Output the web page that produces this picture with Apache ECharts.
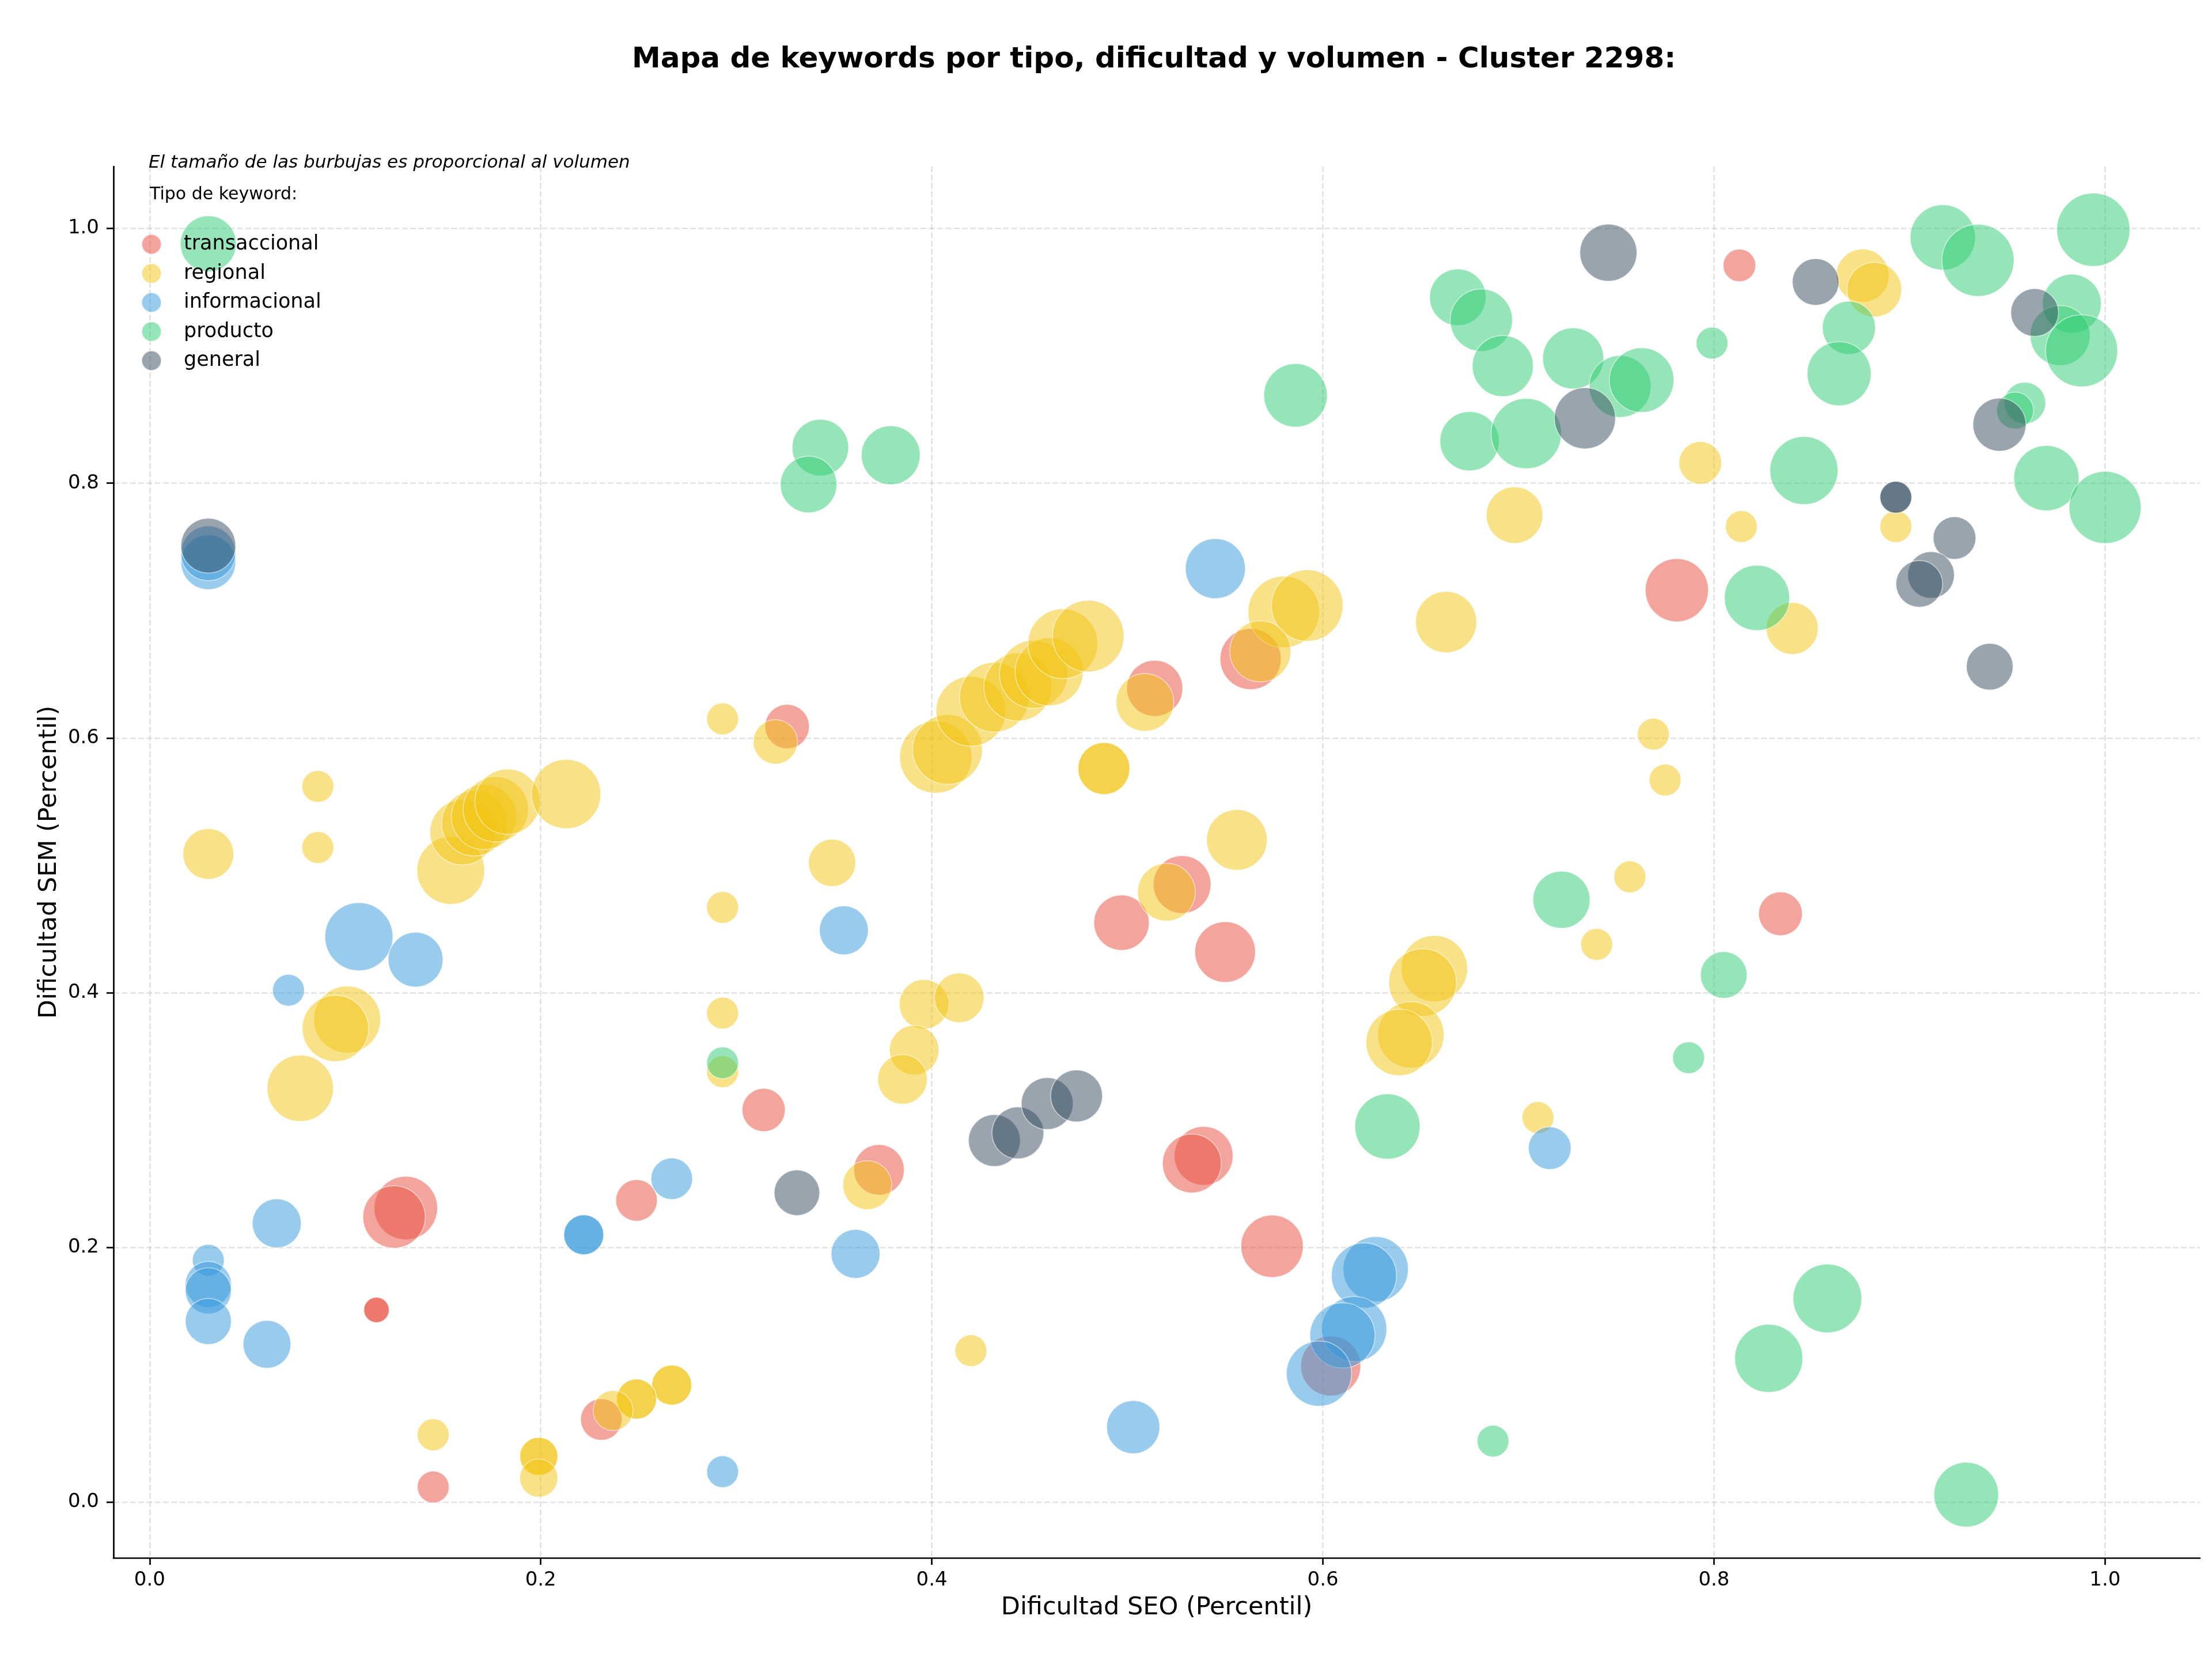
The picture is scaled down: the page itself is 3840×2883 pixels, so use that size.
<!DOCTYPE html>
<html>
<head>
<meta charset="utf-8">
<script src="https://cdn.jsdelivr.net/npm/echarts@6/dist/echarts.min.js"></script>
<style>
  html, body { margin: 0; padding: 0; background: #fff; }
  #chart { width: 3840px; height: 2883px; }
</style>
</head>
<body>
<div id="chart"></div>
<script>
// [dificultad SEO, dificultad SEM, volumen]
var transaccional = [
  [0.813, 0.971, 200], [0.781, 0.716, 750], [0.834, 0.462, 360], [0.563, 0.662, 700],
  [0.514, 0.639, 590], [0.326, 0.609, 370], [0.528, 0.485, 625], [0.497, 0.455, 575],
  [0.550, 0.432, 690], [0.314, 0.308, 350], [0.373, 0.261, 480], [0.131, 0.231, 756],
  [0.125, 0.224, 730], [0.249, 0.237, 324], [0.116, 0.151, 121], [0.116, 0.151, 121],
  [0.145, 0.012, 190], [0.231, 0.065, 324], [0.539, 0.272, 650], [0.533, 0.266, 650],
  [0.574, 0.201, 730], [0.604, 0.107, 676]
];
var regional = [
  [0.876, 0.963, 529], [0.882, 0.952, 560], [0.793, 0.816, 342], [0.698, 0.775, 600],
  [0.814, 0.766, 190], [0.893, 0.766, 190], [0.840, 0.686, 506], [0.663, 0.691, 702],
  [0.769, 0.603, 190], [0.775, 0.567, 190], [0.757, 0.491, 190], [0.740, 0.438, 190],
  [0.710, 0.302, 190], [0.657, 0.419, 826], [0.651, 0.408, 860], [0.645, 0.367, 826],
  [0.639, 0.361, 826], [0.580, 0.699, 960], [0.592, 0.704, 960], [0.568, 0.668, 702],
  [0.509, 0.628, 625], [0.488, 0.576, 506], [0.488, 0.576, 506], [0.556, 0.520, 690],
  [0.520, 0.479, 625],
  [0.402, 0.585, 977], [0.408, 0.591, 915], [0.420, 0.621, 915], [0.432, 0.632, 915],
  [0.444, 0.640, 870], [0.452, 0.650, 870], [0.460, 0.652, 870], [0.467, 0.674, 915],
  [0.480, 0.680, 961],
  [0.154, 0.496, 860], [0.160, 0.526, 800], [0.166, 0.533, 800], [0.171, 0.538, 800],
  [0.177, 0.544, 800], [0.183, 0.550, 800], [0.213, 0.556, 900],
  [0.030, 0.509, 484], [0.086, 0.562, 190], [0.086, 0.514, 190], [0.293, 0.615, 190],
  [0.320, 0.597, 370], [0.349, 0.502, 420], [0.293, 0.467, 190], [0.293, 0.384, 190],
  [0.293, 0.338, 190], [0.396, 0.391, 462], [0.414, 0.396, 462], [0.391, 0.355, 462],
  [0.385, 0.332, 462], [0.101, 0.379, 840], [0.095, 0.372, 826], [0.077, 0.325, 826],
  [0.367, 0.249, 450], [0.420, 0.119, 190], [0.267, 0.092, 300], [0.267, 0.092, 300],
  [0.249, 0.081, 300], [0.249, 0.081, 300], [0.237, 0.072, 300], [0.199, 0.036, 272],
  [0.199, 0.036, 272], [0.199, 0.019, 272], [0.145, 0.053, 190]
];
var informacional = [
  [0.030, 0.738, 564], [0.030, 0.745, 564], [0.107, 0.444, 870], [0.136, 0.426, 564],
  [0.071, 0.402, 190], [0.355, 0.449, 450], [0.065, 0.219, 450], [0.030, 0.190, 190],
  [0.030, 0.171, 400], [0.030, 0.166, 400], [0.030, 0.142, 400], [0.060, 0.124, 430],
  [0.222, 0.210, 300], [0.222, 0.210, 300], [0.267, 0.254, 324], [0.361, 0.195, 450],
  [0.293, 0.024, 190], [0.503, 0.059, 529], [0.545, 0.733, 676], [0.716, 0.278, 342],
  [0.627, 0.183, 798], [0.621, 0.178, 798], [0.616, 0.136, 798], [0.610, 0.131, 798],
  [0.598, 0.101, 798]
];
var producto = [
  [0.030, 0.988, 588], [0.343, 0.828, 600], [0.337, 0.799, 600], [0.379, 0.822, 650],
  [0.586, 0.869, 756], [0.669, 0.946, 600], [0.681, 0.928, 730], [0.692, 0.892, 700],
  [0.728, 0.898, 700], [0.752, 0.876, 720], [0.763, 0.881, 784], [0.675, 0.833, 660],
  [0.704, 0.839, 930], [0.799, 0.910, 190], [0.869, 0.922, 529], [0.864, 0.886, 770],
  [0.917, 0.993, 800], [0.935, 0.975, 977], [0.994, 0.999, 1008], [0.983, 0.941, 650],
  [0.977, 0.916, 676], [0.988, 0.904, 977], [0.959, 0.863, 324], [0.954, 0.857, 256],
  [0.970, 0.804, 800], [1.000, 0.781, 977], [0.846, 0.810, 870], [0.822, 0.710, 800],
  [0.722, 0.473, 612], [0.805, 0.414, 410], [0.787, 0.349, 190], [0.633, 0.295, 800],
  [0.858, 0.160, 885], [0.828, 0.113, 870], [0.687, 0.048, 190], [0.929, 0.006, 784],
  [0.293, 0.345, 190]
];
var general = [
  [0.030, 0.751, 564], [0.746, 0.981, 612], [0.852, 0.958, 410], [0.964, 0.934, 430],
  [0.734, 0.851, 702], [0.946, 0.846, 529], [0.893, 0.789, 190], [0.893, 0.789, 190],
  [0.923, 0.757, 342], [0.911, 0.728, 410], [0.905, 0.721, 410], [0.941, 0.656, 410],
  [0.331, 0.243, 390], [0.432, 0.284, 506], [0.444, 0.290, 506], [0.459, 0.313, 506],
  [0.474, 0.319, 506]
];

var tipos = ['transaccional', 'regional', 'informacional', 'producto', 'general'];
var colores = ['#e74c3c', '#f1c40f', '#3498db', '#2ecc71', '#34495e'];
var grupos = [transaccional, regional, informacional, producto, general];
var ticks = [0, 0.2, 0.4, 0.6, 0.8, 1.0];

var font = 'DejaVu Sans';

// limites como matplotlib: 5% de margen sobre los datos
var todos = [].concat.apply([], grupos);
function rango(i) {
  var vals = todos.map(function (d) { return d[i]; });
  var lo = Math.min.apply(null, vals), hi = Math.max.apply(null, vals);
  var pad = (hi - lo) * 0.05;
  return [lo - pad, hi + pad];
}
var rx = rango(0), ry = rango(1);

function eje(nombre, r, gap, labelMargin) {
  return {
    type: 'value',
    min: r[0],
    max: r[1],
    name: nombre,
    nameLocation: 'middle',
    nameGap: gap,
    nameTextStyle: { fontSize: 43, color: '#000', fontFamily: font },
    axisLine: { show: true, onZero: false, lineStyle: { color: '#000', width: 2.7 } },
    axisTick: { show: true, length: 12, customValues: ticks, lineStyle: { color: '#000', width: 2.7 } },
    axisLabel: {
      customValues: ticks,
      margin: labelMargin,
      fontSize: 34,
      color: '#000',
      fontFamily: font,
      formatter: function (v) { return v.toFixed(1); }
    },
    splitLine: { show: true, lineStyle: { color: '#b0b0b0', opacity: 0.35, width: 2.7, type: [10, 4.3] } }
  };
}

var chart = echarts.init(document.getElementById('chart'));
var option = {
  animation: false,
  backgroundColor: '#fff',
  title: [
    {
      text: 'Mapa de keywords por tipo, dificultad y volumen - Cluster 2298:',
      left: 1097,
      top: 79,
      padding: 0,
      textStyle: { fontSize: 50, fontWeight: 'bold', color: '#000', fontFamily: font }
    },
    {
      text: 'El tamaño de las burbujas es proporcional al volumen',
      left: 258,
      top: 267,
      padding: 0,
      textStyle: { fontSize: 31, fontStyle: 'italic', fontWeight: 'normal', color: '#000', fontFamily: font }
    },
    {
      text: 'Tipo de keyword:',
      left: 260,
      top: 323,
      padding: 0,
      textStyle: { fontSize: 30, fontWeight: 'normal', color: '#000', fontFamily: font }
    }
  ],
  legend: {
    data: tipos,
    orient: 'vertical',
    left: 245,
    top: 406,
    padding: 0,
    icon: 'circle',
    itemWidth: 34,
    itemHeight: 34,
    itemGap: 14.5,
    textStyle: { fontSize: 35, color: '#000', fontFamily: font, padding: [0, 0, 0, 34] }
  },
  grid: { left: 197, right: 21, top: 289, bottom: 179, containLabel: false },
  xAxis: eje('Dificultad SEO (Percentil)', rx, 65, 22),
  yAxis: eje('Dificultad SEM (Percentil)', ry, 86, 25),
  series: grupos.map(function (g, i) {
    return {
      name: tipos[i],
      type: 'scatter',
      data: g,
      symbolSize: function (d) { return 4 * Math.sqrt(d[2]); },
      itemStyle: { color: colores[i], opacity: 0.5, borderColor: '#fff', borderWidth: 1.7 },
      emphasis: { disabled: true }
    };
  })
};
chart.setOption(option);
window.addEventListener('resize', function () {
  chart.resize();
});
</script>
</body>
</html>
